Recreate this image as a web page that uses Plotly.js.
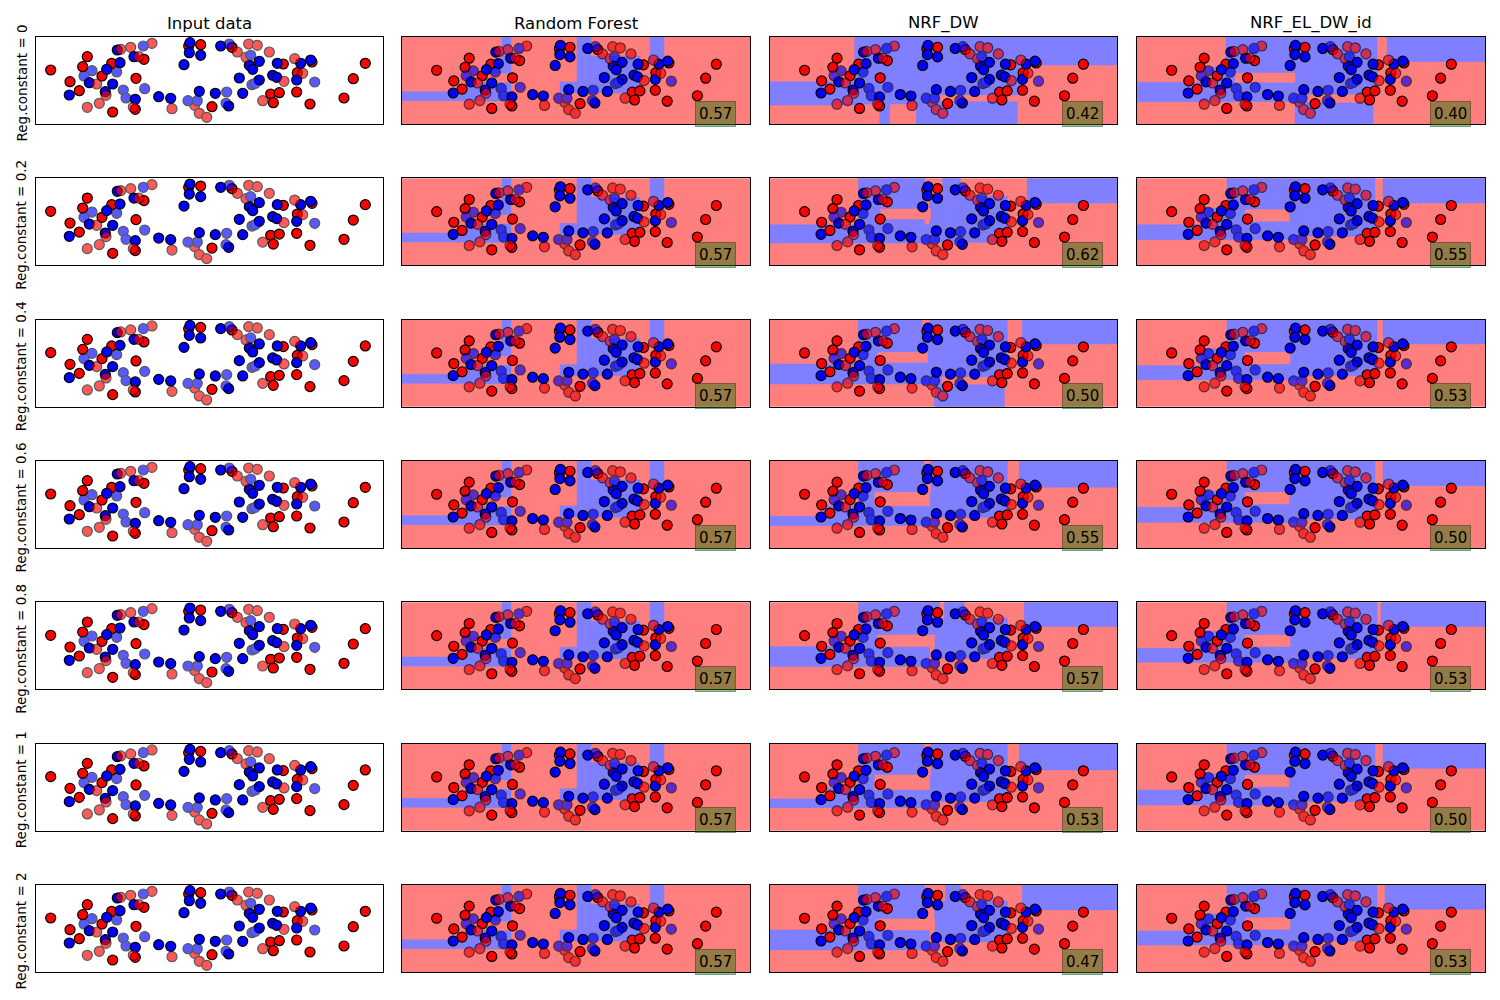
<!DOCTYPE html>
<html><head><meta charset="utf-8">
<script src="https://cdn.plot.ly/plotly-3.0.1.min.js"></script>
<style>body{margin:0;background:#fff}#chart{width:1500px;height:1000px}</style>
</head><body><div id="chart"></div>
<script>
// ---------- data ----------
const methods = ["Input data", "Random Forest", "NRF_DW", "NRF_EL_DW_id"];
const regConstants = ["0", "0.2", "0.4", "0.6", "0.8", "1", "2"];
const scoresRF = [0.57, 0.57, 0.57, 0.57, 0.57, 0.57, 0.57];
const scoresDW = [0.42, 0.62, 0.50, 0.55, 0.57, 0.53, 0.47];
const scoresEL = [0.40, 0.55, 0.53, 0.50, 0.53, 0.50, 0.53];

// training points (opaque)
const trainRedX = [14.7,51.3,46.7,75.7,108,66,34,43.3,100,76.7,99.3,152.7,164.7,196,247.3,276,261.3,329.3,317.3,234.7,243.3,260.7,237.3,274,308,176];
const trainRedY = [54,67.3,57.3,60.7,64.7,48,42.3,33.3,45.7,12,14.7,78,79.3,76.7,60,62,51.3,60.7,45.3,30,31.3,32,21.3,20,26,17.3];
const trainBlueX = [81.3,98,84,70.7,53.3,76.7,33.3,69.3,99.3,122.7,134.7,148,154,153.3,164.7,163.3,184.7,223.3,213.3,216.7,241.3,264.7,274.7,203.3,223.3,236.7,240.7,260.7,179.3,206.7,192.7];
const trainBlueY = [74,67.3,61.3,54.7,41.3,40,29,32.3,24.7,27.3,25.7,59.3,81.3,71.3,68.7,32.7,78,62.7,58.7,54.7,60.7,60.7,64,46,44,48.7,46.7,44,30.7,30.7,18];
// test points (translucent)
const testRedX = [94.7,116,84.7,102.7,60.7,70,51.3,63.3,136,97.3,158.7,163.3,170.7,212.7,221.3,201.3,233.3,210,258.7,266.7,248,226.7];
const testRedY = [76.7,80.7,74.7,67.3,40,28.7,16.7,20.7,15.3,16.7,18.7,10.7,6.7,80,78.7,72,72,66.7,65.3,50.7,42.7,23.3];
const testBlueX = [107.3,56,48,80.7,87.3,90,108.7,152,161.3,193.3,214.7,216,219.3,190.7,190,278.7];
const testBlueY = [78,53.3,48,52,34,26,35.3,23.3,23.3,80,68.7,39.3,40.7,32,20.7,42];

// decision regions: [class, x0, x1, yTop0, yTop1] in panel units (0..348 across, 0..87 down)
const regionsRF = [
  ["b",0,109,54.7,63.7],["b",64,109,45.7,63.7],["b",100,109,0,36],["b",80,109,31,36],
  ["b",158,175,45,56],["b",175,189,0,56],["b",189,238,19,56],["b",248,262,0,26]
];
const regionsDW = [
  [["b",0,85,44.7,68],["b",85,250,0,58],["b",85,170,58,67],["b",110,120,58,87],["b",147,248,64.7,87],["b",147,170,58,87],["b",250,348,0,28]],
  [["b",0,160,46.3,64.7],["b",88.7,155,0,46.3],["b",160,238,18,64],["b",173,191,0,18],["b",258,348,0,24.7],["r",111,161,30.7,40.7]],
  [["b",0,165,44.3,64.3],["b",88.7,238,0,57],["b",165,172,57,87],["b",172,235,65,87],["b",253,348,0,24.3],["r",108,158,32.7,42.7],["r",153,160,0,14]],
  [["b",0,53,55.3,64.7],["b",53,160,44.7,64.7],["b",88.7,238,0,56.3],["r",105,160,31.3,44.7],["r",155,161,0,31.3],["b",250,348,0,26.3]],
  [["b",0,160,44.3,64.3],["b",88.7,170,0,44.3],["b",165,238,16,56],["b",175,195,0,16],["b",255,348,0,24.3],["r",108,165,32.7,44.3]],
  [["b",0,57,55.3,64],["b",57,160,44.7,64],["b",88.7,238,0,58],["r",105,160,31.3,46],["r",155,161,0,31.3],["b",250,348,0,26.3]],
  [["b",0,160,45,65],["b",88.7,155,0,45],["b",165,238,16,57],["b",176,191,0,16],["b",253,348,0,25],["r",108,165,34,45]]
];
const regionsEL = [
  [["b",0,158,45.3,64.7],["b",89,240,0,45.3],["b",75,89,30,45.3],["b",158,240,45.3,57.3],["b",158,170,57.3,87],["b",170,236,66,87],["b",250,348,0,24.7],["r",98,158,36,45.3]],
  [["b",0,160,46.3,61.3],["b",65,90,30,46.3],["b",90,238,0,58],["r",108,152,31.3,43],["b",246,348,0,24.7]],
  [["b",0,165,46,60],["b",65,90,29,46],["b",90,240,0,56],["r",108,153,32.7,44.3],["b",246,348,0,24.3]],
  [["b",0,160,46.3,61.3],["b",65,90,30,46.3],["b",90,238,0,58],["r",108,152,31.3,43],["b",246,348,0,24.7]],
  [["b",0,165,46,60],["b",65,90,29,46],["b",90,240,0,56],["r",108,153,32.7,44.3],["b",244,348,0,24.3]],
  [["b",0,160,46.3,61.3],["b",65,90,30,46.3],["b",90,238,0,58],["r",108,152,31.3,43],["b",246,348,0,24.7]],
  [["b",0,165,46,60],["b",65,90,29,46],["b",90,240,0,56],["r",108,153,32.7,44.3],["b",248,348,0,24.3]]
];

// ---------- layout helpers ----------
const W = 1500, H = 1000;
const colPx = [[36,383],[402,750],[770,1117],[1137,1485]];
const panelH = 87;
const rowTop = r => 37 + 141.33 * r;
const RED_BG = "#ff7f7f", BLUE_BG = "#7f7fff";
const FONT = "DejaVu Sans, sans-serif";

const traces = [];
const layout = {
  width: W, height: H, margin: {l:0, r:0, t:0, b:0},
  paper_bgcolor: "#fff", plot_bgcolor: "#fff", showlegend: false,
  annotations: []
};
let axCount = 0;
const aid = n => (n === 1 ? "" : String(n));

function baseAxis(domain, range, anchor) {
  return {domain: domain, range: range, anchor: anchor, showline: true, mirror: true,
    linecolor: "#000", linewidth: 1, showgrid: false, zeroline: false,
    showticklabels: false, ticks: "", fixedrange: true};
}

function pointTraces(xa, ya) {
  traces.push({type: "scatter", mode: "markers", xaxis: xa, yaxis: ya, hoverinfo: "skip",
    x: trainRedX.concat(trainBlueX), y: trainRedY.concat(trainBlueY),
    marker: {size: 10, color: trainRedX.map(() => "#ff0000").concat(trainBlueX.map(() => "#0000ff")),
      line: {color: "#000", width: 1.2}}});
  traces.push({type: "scatter", mode: "markers", xaxis: xa, yaxis: ya, hoverinfo: "skip",
    x: testRedX.concat(testBlueX), y: testRedY.concat(testBlueY), opacity: 0.65,
    marker: {size: 10, color: testRedX.map(() => "#ff0000").concat(testBlueX.map(() => "#0000ff")),
      line: {color: "#000", width: 1.2}}});
}

function regionTraces(xa, ya, regs) {
  const all = [["r",0,348,0,87]].concat(regs);
  all.forEach(q => {
    const col = q[0] === "b" ? BLUE_BG : RED_BG;
    traces.push({type: "scatter", mode: "lines", xaxis: xa, yaxis: ya, hoverinfo: "skip",
      x: [q[1], q[2], q[2], q[1], q[1]], y: [q[3], q[3], q[4], q[4], q[3]],
      fill: "toself", fillcolor: col, line: {color: col, width: 0.5}});
  });
}

for (let r = 0; r < regConstants.length; r++) {
  const top = rowTop(r);
  const yDom = [1 - (top + panelH) / H, 1 - top / H];
  for (let c = 0; c < 4; c++) {
    const xDom = [colPx[c][0] / W, colPx[c][1] / W];
    if (r === 0) {
      layout.annotations.push({xref: "paper", yref: "paper", x: (xDom[0] + xDom[1]) / 2, y: 1 - 23 / H,
        xanchor: "center", yanchor: "middle", showarrow: false, text: methods[c],
        font: {family: FONT, size: 16.5, color: "#000"}});
    }
    if (c === 0) {
      axCount++;
      const n = axCount;
      layout["xaxis" + aid(n)] = baseAxis(xDom, [0, 347], "y" + aid(n));
      layout["yaxis" + aid(n)] = baseAxis(yDom, [0, 87], "x" + aid(n));
      pointTraces("x" + aid(n), "y" + aid(n));
      layout.annotations.push({xref: "paper", yref: "paper", x: 21 / W, y: (yDom[0] + yDom[1]) / 2 - 0.003,
        xanchor: "center", yanchor: "middle", showarrow: false, textangle: -90,
        text: "Reg.constant = " + regConstants[r], font: {family: FONT, size: 13.5, color: "#000"}});
    } else {
      axCount++;
      const n = axCount;
      layout["xaxis" + aid(n)] = baseAxis(xDom, [0, 348], "y" + aid(n));
      layout["yaxis" + aid(n)] = baseAxis(yDom, [87, 0], "x" + aid(n));
      const regs = c === 1 ? regionsRF : (c === 2 ? regionsDW[r] : regionsEL[r]);
      regionTraces("x" + aid(n), "y" + aid(n), regs);
      axCount++;
      const m = axCount;
      layout["xaxis" + aid(m)] = {overlaying: "x" + aid(n), anchor: "y" + aid(m), range: [-24.3, 367.2],
        visible: false, fixedrange: true, showgrid: false, zeroline: false};
      layout["yaxis" + aid(m)] = {overlaying: "y" + aid(n), anchor: "x" + aid(m), range: [-5.1, 90.6],
        visible: false, fixedrange: true, showgrid: false, zeroline: false};
      pointTraces("x" + aid(m), "y" + aid(m));
      const sc = c === 1 ? scoresRF[r] : (c === 2 ? scoresDW[r] : scoresEL[r]);
      layout.annotations.push({xref: "x" + aid(n) + " domain", yref: "y" + aid(n) + " domain",
        x: 0.959, y: -0.03, xanchor: "right", yanchor: "bottom", showarrow: false,
        text: sc.toFixed(2), font: {family: FONT, size: 15, color: "#000"},
        bgcolor: "rgba(20,120,0,0.45)", bordercolor: "rgba(0,0,0,0.35)", borderwidth: 1, borderpad: 3});
    }
  }
}

Plotly.newPlot("chart", traces, layout, {staticPlot: true, displayModeBar: false});
</script>
</body></html>
